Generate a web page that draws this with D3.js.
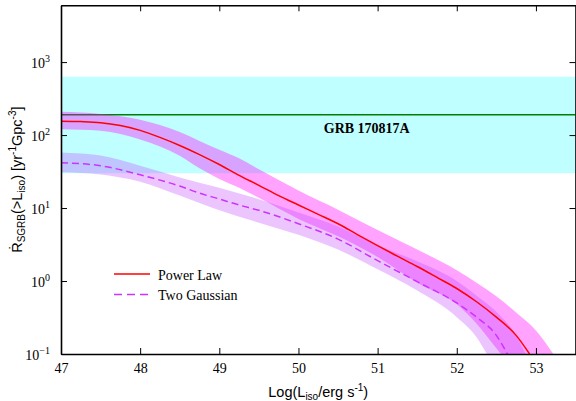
<!DOCTYPE html>
<html><head><meta charset="utf-8">
<script src="https://cdn.jsdelivr.net/npm/d3@7"></script>
<style>body{margin:0;background:#fff}svg{display:block}</style>
</head><body>
<svg id="c" width="576" height="401"></svg>
<script>
// ---- data ----
const xMajorTicks = [47, 48, 49, 50, 51, 52, 53];
const xMinorTicks = [47.5, 48.5, 49.5, 50.5, 51.5, 52.5];
const yDecades = [-1, 0, 1, 2, 3];
const grbRate = 190, grbLow = 30, grbHigh = 630;
const grbLabel = "GRB 170817A";
const seriesNames = ["Power Law", "Two Gaussian"];

const plLine = [[47,155],[47.25,153],[47.5,148],[47.75,135],[48,116],[48.25,93],[48.5,72],[48.75,54],[49,39.5],[49.25,28],[49.5,20.5],[49.75,14.8],[50,11],[50.25,8.2],[50.5,6.1],[50.75,4.3],[51,3.05],[51.25,2.19],[51.5,1.58],[51.75,1.12],[52,0.79],[52.25,0.52],[52.5,0.32],[52.75,0.18],[52.92,0.1]];
const plUpper = [[47,209],[47.5,195],[48,162],[48.5,110],[48.75,83],[49,63],[49.25,48],[49.5,34],[50,17.4],[50.5,9.5],[51,5.0],[51.5,2.7],[52,1.41],[52.25,0.95],[52.5,0.62],[52.75,0.37],[53,0.21],[53.22,0.1]];
const plLower = [[47,120],[47.5,115],[48,87],[48.5,52],[48.75,35],[49,25],[49.25,19],[49.5,13.8],[50,7.1],[50.5,4.1],[51,2.14],[51.5,0.95],[52,0.48],[52.25,0.26],[52.5,0.12],[52.56,0.1]];

const tgLine = [[47,41.7],[47.5,38],[48,28.5],[48.5,20],[48.75,16],[49,13.3],[49.25,11],[49.5,9.3],[50,6.1],[50.5,3.75],[51,1.9],[51.5,0.98],[52,0.5],[52.25,0.32],[52.5,0.18],[52.64,0.1]];
const tgUpper = [[47,57.5],[47.5,52.5],[48,38],[48.5,26.3],[49,19],[49.5,13.2],[50,8.7],[50.5,5.6],[51,3.1],[51.5,1.86],[52,1.0],[52.25,0.63],[52.5,0.38],[52.75,0.178],[52.87,0.1]];
const tgLower = [[47,31],[47.5,28.8],[48,22.9],[48.5,14.8],[49,9.3],[49.5,6.3],[50,4.3],[50.5,2.7],[51,1.45],[51.5,0.74],[52,0.32],[52.25,0.17],[52.38,0.1]];

// ---- layout ----
const L = 61, R = 575.5, T = 5.3, B = 354;
const svg = d3.select("#c");
const x = d3.scaleLinear().domain([47, 53.5]).range([L, R]);
const y = d3.scaleLog().domain([0.1, 6000]).range([B, T]);

svg.append("defs").append("clipPath").attr("id","clip")
  .append("rect").attr("x",L).attr("y",T).attr("width",R-L).attr("height",B-T);
const plot = svg.append("g").attr("clip-path","url(#clip)");

// cyan band
plot.append("rect")
  .attr("x", L).attr("width", R-L)
  .attr("y", y(grbHigh)).attr("height", y(grbLow)-y(grbHigh))
  .attr("fill", "#c0ffff");
plot.append("line")
  .attr("x1", L).attr("x2", R).attr("y1", y(grbRate)).attr("y2", y(grbRate))
  .attr("stroke", "#008000").attr("stroke-width", 1.6);

const line = d3.line().x(d=>x(d[0])).y(d=>y(d[1])).curve(d3.curveMonotoneX);
function bandPath(up, lo){
  return line(up) + line(lo.slice().reverse()).replace(/^M/, "L") + "Z";
}
plot.append("path").attr("d", bandPath(plUpper, plLower)).attr("fill", "#ff00ff").attr("fill-opacity", 0.36);
plot.append("path").attr("d", bandPath(tgUpper, tgLower)).attr("fill", "#c040ff").attr("fill-opacity", 0.3);

plot.append("path").attr("d", line(plLine)).attr("fill","none").attr("stroke","#ff0000").attr("stroke-width",1.5);
plot.append("path").attr("d", line(tgLine)).attr("fill","none").attr("stroke","#cc33ff").attr("stroke-width",1.5).attr("stroke-dasharray","7,4");

// GRB label
svg.append("text").attr("x", x(50.32)).attr("y", y(grbRate)+18)
  .attr("font-family","'Liberation Serif','Times New Roman',serif").attr("font-weight","bold").attr("font-size",14)
  .text(grbLabel);

// legend
const lg = svg.append("g");
lg.append("line").attr("x1",114).attr("x2",150).attr("y1",274).attr("y2",274).attr("stroke","#ff0000").attr("stroke-width",1.5);
lg.append("line").attr("x1",114).attr("x2",150).attr("y1",294.5).attr("y2",294.5).attr("stroke","#cc33ff").attr("stroke-width",1.5).attr("stroke-dasharray","8,5");
lg.selectAll("text").data(seriesNames).join("text")
  .attr("x",158).attr("y",(d,i)=>279.5+i*20)
  .attr("font-family","'Liberation Serif','Times New Roman',serif").attr("font-size",14)
  .text(d=>d);

// ---- axes ----
const yMinor = [];
yDecades.forEach(e => { for (let k=2;k<=9;k++){ const v=k*Math.pow(10,e); if (v<=6000) yMinor.push(v);} });
const yMajor = yDecades.map(e=>Math.pow(10,e));

function styleAxis(g){
  g.select(".domain").attr("stroke","#000").attr("stroke-width",1.6);
  g.selectAll(".tick line").attr("stroke","#000").attr("stroke-width",1);
}
// bottom
const gb = svg.append("g").attr("transform",`translate(0,${B})`);
gb.call(d3.axisBottom(x).tickValues(xMinorTicks).tickSize(-3).tickSizeOuter(0).tickFormat(""));
gb.call(d3.axisBottom(x).tickValues(xMajorTicks).tickSize(-6).tickSizeOuter(0).tickPadding(9).tickFormat(d3.format("d")));
gb.selectAll("text").attr("font-family","'Liberation Serif','Times New Roman',serif").attr("font-size",14).attr("fill","#000");
styleAxis(gb);
// top
const gt = svg.append("g").attr("transform",`translate(0,${T})`);
gt.call(d3.axisTop(x).tickValues(xMinorTicks).tickSize(-3).tickSizeOuter(0).tickFormat(""));
gt.call(d3.axisTop(x).tickValues(xMajorTicks).tickSize(-6).tickSizeOuter(0).tickFormat(""));
styleAxis(gt);
// left
const gl = svg.append("g").attr("transform",`translate(${L},0)`);
gl.call(d3.axisLeft(y).tickValues(yMinor).tickSize(-3).tickSizeOuter(0).tickFormat(""));
gl.call(d3.axisLeft(y).tickValues(yMajor).tickSize(-6).tickSizeOuter(0).tickPadding(11).tickFormat(()=>"10"));
gl.selectAll(".tick text").filter(d=>yMajor.includes(d))
  .attr("font-family","'Liberation Serif','Times New Roman',serif").attr("font-size",14).attr("fill","#000").attr("dy","0.42em")
  .each(function(d){
    const e = Math.round(Math.log10(d));
    d3.select(this).append("tspan").attr("dy",-6.5).attr("font-size",10).text(e<0?"\u2212"+(-e):String(e));
  });
styleAxis(gl);
// right
const gr = svg.append("g").attr("transform",`translate(${R},0)`);
gr.call(d3.axisRight(y).tickValues(yMinor).tickSize(-3).tickSizeOuter(0).tickFormat(""));
gr.call(d3.axisRight(y).tickValues(yMajor).tickSize(-6).tickSizeOuter(0).tickFormat(""));
styleAxis(gr);

// axis titles
const xt = svg.append("text").attr("x",(L+R)/2).attr("y",397).attr("text-anchor","middle")
  .attr("font-family","'Liberation Sans',Arial,sans-serif").attr("font-size",14.5);
xt.append("tspan").text("Log(L");
xt.append("tspan").attr("font-size",10).attr("dy",3).text("iso");
xt.append("tspan").attr("dy",-3).text("/erg s");
xt.append("tspan").attr("font-size",10).attr("dy",-6).text("-1");
xt.append("tspan").attr("dy",6).text(")");

const yt = svg.append("text").attr("transform",`translate(22,${(T+B)/2}) rotate(-90)`).attr("text-anchor","middle")
  .attr("font-family","'Liberation Sans',Arial,sans-serif").attr("font-size",14.5);
yt.append("tspan").text("\u1E58");
yt.append("tspan").attr("font-size",10).attr("dy",3).text("SGRB");
yt.append("tspan").attr("dy",-3).text("(>L");
yt.append("tspan").attr("font-size",10).attr("dy",3).text("iso");
yt.append("tspan").attr("dy",-3).text(") [yr");
yt.append("tspan").attr("font-size",10).attr("dy",-6).text("-1");
yt.append("tspan").attr("dy",6).text("Gpc");
yt.append("tspan").attr("font-size",10).attr("dy",-6).text("-3");
yt.append("tspan").attr("dy",6).text("]");
</script>
</body></html>
